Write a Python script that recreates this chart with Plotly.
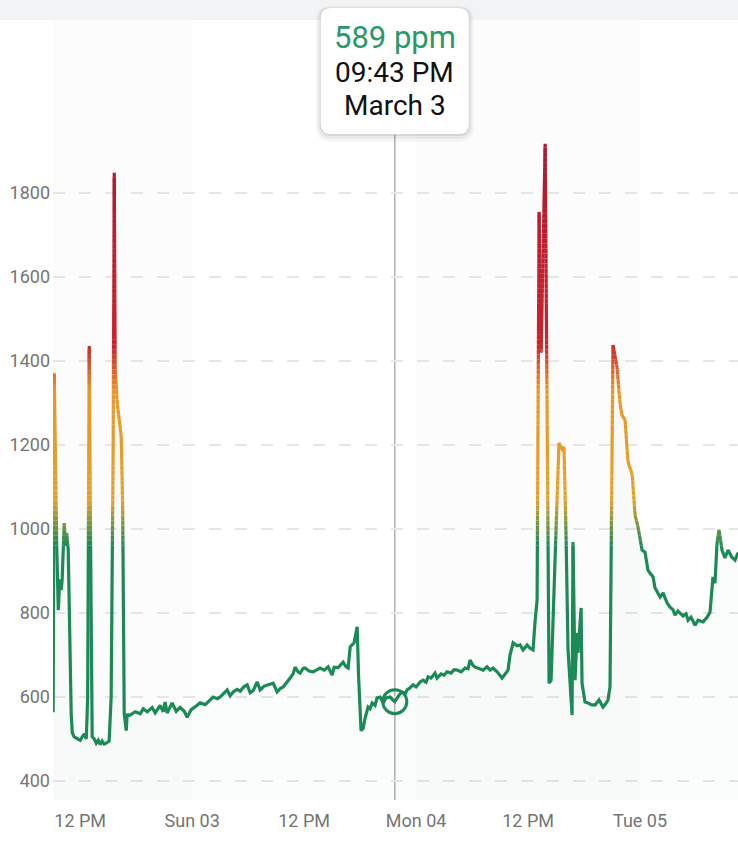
import numpy as np
import pandas as pd
import plotly.graph_objects as go

# CO2 readings (ppm)
times = [
    "2024-03-02 09:06", "2024-03-02 09:13", "2024-03-02 09:32", "2024-03-02 09:39", "2024-03-02 09:48",
    "2024-03-02 09:58", "2024-03-02 10:04", "2024-03-02 10:17", "2024-03-02 10:27", "2024-03-02 10:33",
    "2024-03-02 10:43", "2024-03-02 11:02", "2024-03-02 11:09", "2024-03-02 11:21", "2024-03-02 11:41",
    "2024-03-02 12:00", "2024-03-02 12:13", "2024-03-02 12:26", "2024-03-02 12:39", "2024-03-02 12:48",
    "2024-03-02 12:58", "2024-03-02 13:08", "2024-03-02 13:17", "2024-03-02 13:30", "2024-03-02 13:43",
    "2024-03-02 13:56", "2024-03-02 14:09", "2024-03-02 14:21", "2024-03-02 14:34", "2024-03-02 14:47",
    "2024-03-02 15:06", "2024-03-02 15:19", "2024-03-02 15:32", "2024-03-02 15:39", "2024-03-02 15:45",
    "2024-03-02 15:58", "2024-03-02 16:11", "2024-03-02 16:24", "2024-03-02 16:33", "2024-03-02 16:43",
    "2024-03-02 16:56", "2024-03-02 17:02", "2024-03-02 17:09", "2024-03-02 17:21", "2024-03-02 17:54",
    "2024-03-02 18:26", "2024-03-02 18:45", "2024-03-02 19:11", "2024-03-02 19:43", "2024-03-02 20:02",
    "2024-03-02 20:34", "2024-03-02 20:54", "2024-03-02 21:06", "2024-03-02 21:19", "2024-03-02 21:51",
    "2024-03-02 22:17", "2024-03-02 22:43", "2024-03-02 23:09", "2024-03-02 23:28", "2024-03-02 23:54",
    "2024-03-03 00:19", "2024-03-03 00:51", "2024-03-03 01:24", "2024-03-03 01:56", "2024-03-03 02:15",
    "2024-03-03 02:41", "2024-03-03 03:00", "2024-03-03 03:26", "2024-03-03 03:45", "2024-03-03 04:04",
    "2024-03-03 04:24", "2024-03-03 04:49", "2024-03-03 05:09", "2024-03-03 05:34", "2024-03-03 05:54",
    "2024-03-03 06:13", "2024-03-03 06:32", "2024-03-03 06:58", "2024-03-03 07:17", "2024-03-03 07:43",
    "2024-03-03 08:09", "2024-03-03 08:41", "2024-03-03 09:06", "2024-03-03 09:26", "2024-03-03 09:45",
    "2024-03-03 10:11", "2024-03-03 10:30", "2024-03-03 10:49", "2024-03-03 11:02", "2024-03-03 11:21",
    "2024-03-03 11:34", "2024-03-03 11:54", "2024-03-03 12:06", "2024-03-03 12:32", "2024-03-03 12:58",
    "2024-03-03 13:24", "2024-03-03 13:43", "2024-03-03 14:09", "2024-03-03 14:34", "2024-03-03 15:00",
    "2024-03-03 15:13", "2024-03-03 15:39", "2024-03-03 16:11", "2024-03-03 16:30", "2024-03-03 16:43",
    "2024-03-03 16:56", "2024-03-03 17:21", "2024-03-03 17:41", "2024-03-03 17:50", "2024-03-03 18:06",
    "2024-03-03 18:19", "2024-03-03 18:32", "2024-03-03 18:51", "2024-03-03 19:04", "2024-03-03 19:17",
    "2024-03-03 19:36", "2024-03-03 19:49", "2024-03-03 20:09", "2024-03-03 20:28", "2024-03-03 20:47",
    "2024-03-03 21:13", "2024-03-03 21:32", "2024-03-03 21:43", "2024-03-03 22:11", "2024-03-03 22:30",
    "2024-03-03 22:49", "2024-03-03 23:02", "2024-03-03 23:21", "2024-03-03 23:41", "2024-03-04 00:00",
    "2024-03-04 00:26", "2024-03-04 00:45", "2024-03-04 01:04", "2024-03-04 01:17", "2024-03-04 01:36",
    "2024-03-04 02:02", "2024-03-04 02:15", "2024-03-04 02:41", "2024-03-04 03:00", "2024-03-04 03:19",
    "2024-03-04 03:45", "2024-03-04 04:04", "2024-03-04 04:24", "2024-03-04 04:49", "2024-03-04 05:15",
    "2024-03-04 05:34", "2024-03-04 05:47", "2024-03-04 06:06", "2024-03-04 06:19", "2024-03-04 06:45",
    "2024-03-04 07:11", "2024-03-04 07:36", "2024-03-04 07:56", "2024-03-04 08:15", "2024-03-04 08:41",
    "2024-03-04 09:13", "2024-03-04 09:32", "2024-03-04 09:51", "2024-03-04 10:04", "2024-03-04 10:24",
    "2024-03-04 10:49", "2024-03-04 11:09", "2024-03-04 11:28", "2024-03-04 11:54", "2024-03-04 12:13",
    "2024-03-04 12:32", "2024-03-04 12:45", "2024-03-04 12:58", "2024-03-04 13:11", "2024-03-04 13:24",
    "2024-03-04 13:50", "2024-03-04 14:15", "2024-03-04 14:28", "2024-03-04 15:00", "2024-03-04 15:19",
    "2024-03-04 15:39", "2024-03-04 15:51", "2024-03-04 16:04", "2024-03-04 16:17", "2024-03-04 16:43",
    "2024-03-04 16:49", "2024-03-04 17:02", "2024-03-04 17:15", "2024-03-04 17:21", "2024-03-04 17:41",
    "2024-03-04 17:47", "2024-03-04 18:06", "2024-03-04 18:26", "2024-03-04 18:45", "2024-03-04 19:11",
    "2024-03-04 19:36", "2024-03-04 20:02", "2024-03-04 20:21", "2024-03-04 20:34", "2024-03-04 20:47",
    "2024-03-04 21:06", "2024-03-04 21:32", "2024-03-04 21:51", "2024-03-04 22:04", "2024-03-04 22:24",
    "2024-03-04 22:43", "2024-03-04 23:09", "2024-03-04 23:28", "2024-03-04 23:47", "2024-03-05 00:13",
    "2024-03-05 00:32", "2024-03-05 00:51", "2024-03-05 01:04", "2024-03-05 01:24", "2024-03-05 01:36",
    "2024-03-05 01:49", "2024-03-05 02:09", "2024-03-05 02:28", "2024-03-05 02:54", "2024-03-05 03:13",
    "2024-03-05 03:32", "2024-03-05 03:45", "2024-03-05 04:04", "2024-03-05 04:17", "2024-03-05 04:36",
    "2024-03-05 04:56", "2024-03-05 05:09", "2024-03-05 05:28", "2024-03-05 05:54", "2024-03-05 06:13",
    "2024-03-05 06:45", "2024-03-05 07:11", "2024-03-05 07:30", "2024-03-05 07:49", "2024-03-05 08:02",
    "2024-03-05 08:15", "2024-03-05 08:28", "2024-03-05 08:47", "2024-03-05 09:06", "2024-03-05 09:26",
    "2024-03-05 09:51", "2024-03-05 10:11", "2024-03-05 10:30", "2024-03-05 10:45",
]
ppm = [
    564, 1371, 880, 807, 880, 855, 880, 1014, 960, 990,
    950, 560, 515, 505, 500, 497, 505, 512, 500, 600,
    1436, 900, 505, 500, 490, 497, 487, 495, 488, 490,
    495, 600, 1200, 1848, 1380, 1300, 1260, 1220, 1050, 560,
    520, 560, 555, 557, 565, 560, 572, 565, 575, 562,
    580, 565, 588, 562, 586, 566, 575, 566, 552, 570,
    577, 586, 582, 592, 600, 596, 600, 610, 617, 603,
    612, 618, 614, 625, 629, 610, 615, 636, 617, 626,
    630, 633, 612, 620, 624, 635, 645, 655, 671, 660,
    657, 668, 669, 662, 660, 665, 669, 664, 672, 652,
    671, 670, 683, 672, 669, 719, 729, 767, 650, 520,
    525, 550, 576, 572, 586, 580, 598, 600, 586, 598,
    600, 592, 589, 605, 612, 608, 617, 622, 629, 624,
    636, 640, 635, 648, 645, 657, 645, 655, 652, 660,
    657, 665, 664, 660, 669, 667, 688, 675, 671, 668,
    664, 672, 664, 669, 660, 645, 656, 664, 700, 729,
    722, 724, 712, 724, 716, 712, 780, 831, 1755, 1420,
    1917, 633, 640, 1000, 1205, 1190, 1195, 990, 712, 557,
    969, 640, 752, 705, 812, 633, 588, 586, 582, 581,
    593, 576, 585, 593, 624, 1438, 1386, 1300, 1271, 1260,
    1157, 1133, 1033, 1005, 950, 945, 902, 895, 886, 860,
    850, 838, 848, 824, 814, 808, 795, 805, 800, 793,
    798, 783, 790, 771, 783, 779, 790, 802, 886, 871,
    967, 998, 950, 931, 950, 933, 926, 943, 935,
]

hover_time = "2024-03-03 21:43"
hover_ppm = 589
hover_lines = ["589 ppm", "09:43 PM", "March 3"]

x_range = ["2024-03-02 09:05", "2024-03-05 10:30"]
x_tick_vals = ["2024-03-02 12:00", "2024-03-03 00:00", "2024-03-03 12:00",
               "2024-03-04 00:00", "2024-03-04 12:00", "2024-03-05 00:00"]
x_tick_text = ["12 PM", "Sun 03", "12 PM", "Mon 04", "12 PM", "Tue 05"]
y_tick_vals = [400, 600, 800, 1000, 1200, 1400, 1600, 1800]
shaded_days = [("2024-03-02 00:00", "2024-03-03 00:00"), ("2024-03-04 00:00", "2024-03-05 00:00")]

GREEN = "#1b8a5a"
TICK_GREY = "#757575"

# colour stops for the vertical gradient of the line
stops_ppm = [960, 1070, 1330, 1440, 1900]
stops_rgb = [(27, 138, 86), (228, 162, 42), (232, 150, 36), (205, 34, 46), (175, 26, 46)]


def color_at(v):
    r = np.interp(v, stops_ppm, [c[0] for c in stops_rgb])
    g = np.interp(v, stops_ppm, [c[1] for c in stops_rgb])
    b = np.interp(v, stops_ppm, [c[2] for c in stops_rgb])
    return f"rgb({r:.0f},{g:.0f},{b:.0f})"


# split the line at ppm levels so each piece can get its own colour
edges = np.arange(960, 1960, 12)
t_ms = pd.to_datetime(times).astype("int64").to_numpy() / 1e6
vals = np.array(ppm, dtype=float)
pieces = {}
for i in range(len(vals) - 1):
    v0, v1, t0, t1 = vals[i], vals[i + 1], t_ms[i], t_ms[i + 1]
    lo, hi = min(v0, v1), max(v0, v1)
    levs = edges[(edges > lo) & (edges < hi)]
    levs = levs if v1 >= v0 else levs[::-1]
    pv = [v0, *levs, v1]
    pt = [t0 + (t1 - t0) * (v - v0) / (v1 - v0) if v1 != v0 else t0 for v in pv]
    pt[-1] = t1
    for j in range(len(pv) - 1):
        b = int(np.searchsorted(edges, (pv[j] + pv[j + 1]) / 2))
        xs, ys = pieces.setdefault(b, ([], []))
        if not xs or xs[-1] != pt[j] or ys[-1] != pv[j]:
            if xs:
                xs.append(None)
                ys.append(None)
            xs.append(pt[j])
            ys.append(pv[j])
        xs.append(pt[j + 1])
        ys.append(pv[j + 1])

fig = go.Figure()

fig.add_trace(go.Scatter(
    x=pd.to_datetime(times), y=ppm, mode="lines", line={"width": 0},
    fill="tozeroy", fillcolor="rgba(27,138,86,0.014)", hoverinfo="skip",
))

for b in sorted(pieces):
    xs, ys = pieces[b]
    if b == 0:
        col = color_at(900)
    elif b >= len(edges):
        col = color_at(1950)
    else:
        col = color_at((edges[b - 1] + edges[b]) / 2)
    fig.add_trace(go.Scatter(
        x=[pd.Timestamp(v, unit="ms") if v is not None else None for v in xs],
        y=ys, mode="lines", line={"width": 3.2, "color": col}, hoverinfo="skip",
    ))

fig.add_trace(go.Scatter(
    x=[pd.Timestamp(hover_time)], y=[hover_ppm], mode="markers",
    marker={"symbol": "circle-open", "size": 24, "color": GREEN, "line": {"width": 3}},
    hoverinfo="skip",
))

shapes = []
for d0, d1 in shaded_days:
    shapes.append(dict(type="rect", xref="x", yref="paper", x0=d0, x1=d1, y0=0, y1=1,
                       fillcolor="rgba(0,20,40,0.012)", line={"width": 0}, layer="below"))
shapes.append(dict(type="line", xref="x", yref="paper", x0=hover_time, x1=hover_time,
                   y0=0, y1=0.853, line={"color": "#b0b0b0", "width": 1.5}, layer="between"))
# grey app bar at the very top
shapes.append(dict(type="rect", xref="paper", yref="paper", x0=-0.1, x1=1, y0=1, y1=1.05,
                   fillcolor="#f1f3f4", line={"width": 0}, layer="above"))


def rounded_box(w, top, bottom, r):
    return (f"M {-w + r},{top} L {w - r},{top} Q {w},{top} {w},{top - r} "
            f"L {w},{bottom + r} Q {w},{bottom} {w - r},{bottom} "
            f"L {-w + r},{bottom} Q {-w},{bottom} {-w},{bottom + r} "
            f"L {-w},{top - r} Q {-w},{top} {-w + r},{top} Z")


for grow, drop, alpha in [(5, 3, 0.03), (3, 2, 0.05), (1, 1, 0.08)]:
    shapes.append(dict(type="path", xref="x", yref="paper", xsizemode="pixel", ysizemode="pixel",
                       xanchor=hover_time, yanchor=1,
                       path=rounded_box(74 + grow, 12 + grow - drop, -114 - grow - drop, 10 + grow),
                       fillcolor=f"rgba(0,0,0,{alpha})", line={"width": 0}, layer="above"))
shapes.append(dict(type="path", xref="x", yref="paper", xsizemode="pixel", ysizemode="pixel",
                   xanchor=hover_time, yanchor=1, path=rounded_box(74, 12, -114, 10),
                   fillcolor="white", line={"width": 0}, layer="above"))

annotations = [
    dict(x=hover_time, xref="x", y=0.977, yref="paper", text=hover_lines[0], showarrow=False,
         font={"size": 31, "color": "#2a9868", "family": "Roboto"}, yanchor="middle"),
    dict(x=hover_time, xref="x", y=0.933, yref="paper", text=hover_lines[1], showarrow=False,
         font={"size": 28, "color": "#111111", "family": "Roboto"}, yanchor="middle"),
    dict(x=hover_time, xref="x", y=0.891, yref="paper", text=hover_lines[2], showarrow=False,
         font={"size": 28, "color": "#111111", "family": "Roboto"}, yanchor="middle"),
]

fig.update_layout(
    width=738,
    height=851,
    margin={"l": 53, "r": 0, "t": 20, "b": 51},
    paper_bgcolor="white",
    plot_bgcolor="white",
    showlegend=False,
    hovermode=False,
    font={"family": "Roboto", "color": TICK_GREY},
    shapes=shapes,
    annotations=annotations,
    xaxis={
        "type": "date",
        "range": x_range,
        "tickvals": x_tick_vals,
        "ticktext": x_tick_text,
        "showgrid": False,
        "zeroline": False,
        "showline": False,
        "ticks": "",
        "tickfont": {"size": 18, "color": TICK_GREY},
        "ticklabelstandoff": 8,
    },
    yaxis={
        "range": [354.8, 2211.9],
        "tickvals": y_tick_vals,
        "showgrid": True,
        "gridcolor": "#e6e6e6",
        "gridwidth": 1.5,
        "griddash": "12px,14px",
        "zeroline": False,
        "showline": False,
        "ticks": "",
        "tickfont": {"size": 18, "color": TICK_GREY},
        "ticklabelstandoff": 2,
    },
)

fig.write_html("out.html", config={"displayModeBar": False},
               post_script="document.body.style.margin = '0';")
